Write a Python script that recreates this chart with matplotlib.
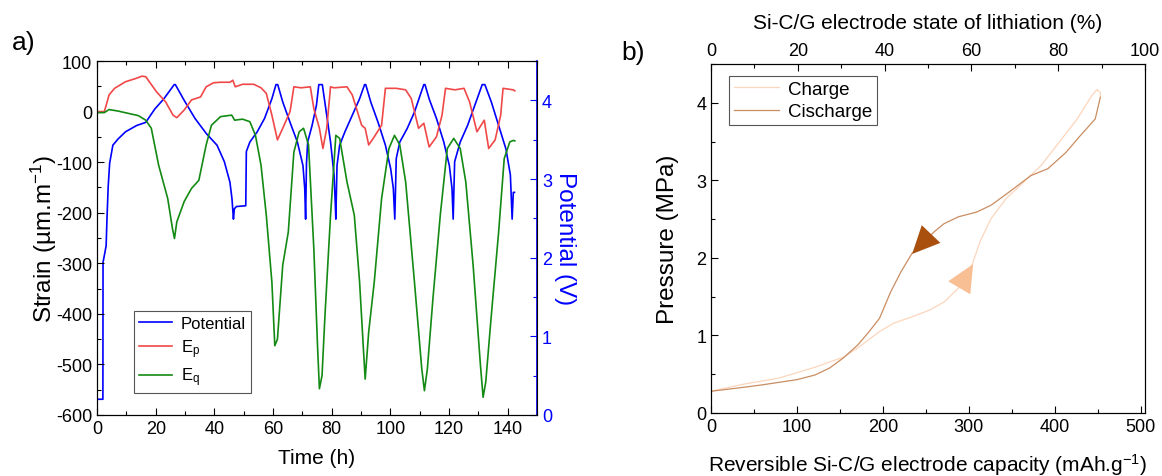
import matplotlib
matplotlib.use("Agg")
import matplotlib.pyplot as plt
from matplotlib.ticker import MultipleLocator

plt.rcParams['font.family'] = ['Liberation Sans', 'DejaVu Sans']
plt.rcParams['mathtext.fontset'] = 'custom'
plt.rcParams['mathtext.rm'] = 'Liberation Sans'
plt.rcParams['mathtext.it'] = 'Liberation Sans:italic'
plt.rcParams['mathtext.default'] = 'regular'

# ---------------- Panel a data ----------------
pot_t = [0, 2.0, 2.05, 3.1, 3.4, 3.8, 4.3, 5.4, 7.2, 9.7, 13.5, 16.6, 19.7, 22.8, 26.3, 26.7,
         29.7, 33.4, 37.2, 40.9, 43.4, 45.3, 46.0, 46.5, 46.8, 47.5, 50.7, 50.9, 52.1, 54.6,
         57.1, 59.6, 61.0, 61.6, 63.3, 65.8, 68.3, 70.2, 70.8, 71.1, 71.4, 71.8, 73.3, 74.8,
         75.6, 76.8, 78.3, 79.6, 80.8, 81.2, 81.4, 81.8, 82.7, 84.5, 87.0, 89.5, 91.2, 91.6,
         93.3, 95.8, 98.3, 100.1, 101.0, 101.5, 102.0, 103.2, 105.7, 108.2, 110.1, 111.4,
         111.8, 113.2, 115.7, 118.2, 120.1, 121.0, 121.4, 121.9, 123.8, 126.3, 128.8, 131.3,
         132.2, 134.4, 136.9, 139.4, 140.9, 141.5, 141.9, 142.3]
pot_v = [0.2, 0.2, 1.94, 2.15, 2.5, 2.9, 3.2, 3.43, 3.51, 3.6, 3.68, 3.72, 3.89, 4.02, 4.2, 4.2,
         4.0, 3.77, 3.58, 3.43, 3.22, 2.96, 2.75, 2.49, 2.62, 2.65, 2.66, 3.35, 3.47, 3.6,
         3.77, 4.02, 4.2, 4.2, 3.98, 3.72, 3.47, 3.17, 2.88, 2.49, 3.2, 3.47, 3.68, 3.94,
         4.2, 4.2, 3.81, 3.47, 3.05, 2.7, 2.49, 3.17, 3.43, 3.6, 3.81, 4.02, 4.2, 4.2,
         3.98, 3.72, 3.43, 3.13, 2.88, 2.49, 3.26, 3.47, 3.64, 3.85, 4.06, 4.2,
         4.2, 4.02, 3.77, 3.47, 3.17, 2.88, 2.49, 3.22, 3.47, 3.68, 3.94, 4.2,
         4.2, 3.98, 3.68, 3.38, 3.05, 2.49, 2.83, 2.83]

ep_t = [0, 2.5, 3.0, 4.1, 6.0, 9.7, 13.5, 15.3, 16.6, 20.3, 23.4, 25.9, 27.2, 29.7, 32.2, 35.3,
        37.2, 39.7, 42.1, 45.3, 46.3, 47.1, 49.6, 53.4, 55.9, 57.7, 59.6, 61.5, 63.3, 65.8,
        67.1, 69.6, 72.7, 73.9, 75.8, 77.0, 78.3, 79.6, 80.8, 85.2, 87.0, 90.2, 91.4, 92.6,
        94.5, 97.0, 98.3, 102.0, 105.2, 107.1, 109.6, 111.4, 113.2, 115.7, 117.6, 118.8,
        122.0, 125.1, 127.0, 129.5, 132.0, 133.5, 135.7, 137.6, 138.4, 141.9, 142.4]
ep_v = [0, 0, 10, 33, 46, 59, 66, 70, 69, 39, 19, -7, -12, 3, 23, 29,
        49, 57, 58, 58, 62, 49, 54, 54, 47, 36, -7, -56, -33, 0,
        49, 47, 49, 6, -33, -73, -33, 49, 47, 49, 33, -27, -33, -66,
        -50, -27, 46, 46, 43, 26, -33, -23, -70, -50, -7, 46,
        43, 46, 19, -40, -17, -73, -56, -7, 46, 43, 41]

eq_t = [0, 2.5, 4.1, 7.2, 11.0, 14.1, 16.6, 18.5, 21.0, 24.1, 25.7, 26.4, 27.2, 29.7, 32.2,
        34.7, 37.2, 39.0, 42.1, 45.9, 46.9, 49.6, 52.1, 54.0, 55.9, 57.7, 59.6, 60.6, 61.5,
        63.3, 65.2, 67.1, 68.9, 70.4, 72.1, 73.9, 75.2, 75.8, 76.7, 77.7, 79.6, 81.4, 82.7,
        85.2, 87.7, 89.5, 90.8, 91.4, 92.6, 94.5, 97.0, 99.5, 101.4, 103.2, 105.2, 108.2,
        110.7, 111.6, 112.6, 114.5, 117.0, 119.4, 121.6, 123.8, 125.7, 128.2, 130.7, 131.6,
        132.5, 134.4, 136.9, 138.8, 140.7, 141.9, 142.4]
eq_v = [-2, -2, 4, 1, -4, -8, -17, -33, -106, -172, -231, -251, -218, -178, -152,
        -136, -66, -27, -10, -7, -17, -15, -20, -47, -106, -205, -337, -463, -450,
        -304, -238, -80, -40, -33, -66, -271, -469, -548, -522, -403, -205, -47, -53,
        -139, -205, -337, -469, -529, -436, -337, -172, -73, -47, -66, -139, -337,
        -509, -552, -509, -370, -205, -73, -53, -73, -139, -304, -502, -565,
        -535, -403, -238, -93, -60, -57, -58]

# ---------------- Panel b data ----------------
chg_cap = [0, 37, 79, 121, 154, 171, 196, 213, 234, 255, 271, 288, 301, 313, 326, 343,
           364, 384, 405, 426, 443, 449, 453, 453]
chg_p = [0.28, 0.37, 0.45, 0.59, 0.72, 0.84, 1.05, 1.16, 1.24, 1.33, 1.43, 1.61, 1.82, 2.21,
         2.51, 2.76, 2.98, 3.19, 3.49, 3.79, 4.09, 4.17, 4.13, 4.07]
dis_cap = [453, 447, 430, 413, 392, 372, 347, 326, 309, 288, 271, 259, 246, 234, 221, 209,
           196, 184, 171, 154, 138, 121, 100, 58, 37, 0]
dis_p = [4.07, 3.79, 3.58, 3.36, 3.15, 3.06, 2.85, 2.68, 2.59, 2.53, 2.44, 2.33, 2.18, 2.06,
         1.82, 1.56, 1.22, 1.05, 0.88, 0.71, 0.58, 0.49, 0.43, 0.36, 0.33, 0.28]

# arrow heads (tip, tail) along curves
dis_arrow_tip = (234, 2.05)
dis_arrow_tail = (258, 2.33)
chg_arrow_tip = (305, 1.92)
chg_arrow_tail = (287, 1.58)

C_POT = '#0000ff'
C_EP = '#f04848'
C_EQ = '#138a13'
C_CHG = '#fbd6bd'
C_DIS = '#c98d62'
C_DIS_ARROW = '#a9500f'
C_CHG_ARROW = '#f8bf95'

fig = plt.figure(figsize=(11.62, 4.77), dpi=100)

TICK_FS = 13
LABEL_FS = 15
YLABEL_FS = 17.5

# ---------------- Panel a ----------------
ax1 = fig.add_axes([0.0835, 0.1279, 0.3787, 0.7421])
ax1b = ax1.twinx()

l_ep, = ax1.plot(ep_t, ep_v, color=C_EP, lw=1.2, label='E$_\\mathrm{p}$')
l_eq, = ax1.plot(eq_t, eq_v, color=C_EQ, lw=1.2, label='E$_\\mathrm{q}$')
l_pot, = ax1b.plot(pot_t, pot_v, color=C_POT, lw=1.2, label='Potential')

ax1.set_xlim(0, 150)
ax1.set_ylim(-600, 100)
ax1b.set_ylim(0, 4.5)
ax1.xaxis.set_major_locator(MultipleLocator(20))
ax1.xaxis.set_minor_locator(MultipleLocator(10))
ax1.yaxis.set_major_locator(MultipleLocator(100))
ax1.yaxis.set_minor_locator(MultipleLocator(50))
ax1b.yaxis.set_major_locator(MultipleLocator(1))
ax1b.yaxis.set_minor_locator(MultipleLocator(0.5))

ax1.tick_params(axis='x', which='both', direction='in', top=True, bottom=True, labelsize=TICK_FS)
ax1.tick_params(axis='y', which='both', direction='in', left=True, right=False, labelsize=TICK_FS)
ax1.tick_params(which='major', length=5, width=0.8)
ax1.tick_params(which='minor', length=3, width=0.8)
ax1b.tick_params(axis='y', which='both', direction='in', colors=C_POT, labelsize=TICK_FS)
ax1b.tick_params(which='major', length=5, width=0.8)
ax1b.tick_params(which='minor', length=3, width=0.8)
ax1b.spines['right'].set_color(C_POT)
ax1b.spines['right'].set_linewidth(1.2)

ax1.set_yticks(ax1.get_yticks())
ax1.set_yticklabels([str(int(v)) for v in ax1.get_yticks()])
ax1.set_ylim(-600, 100)
ax1.set_xlabel('Time (h)', fontsize=LABEL_FS, labelpad=8)
ax1.set_ylabel('Strain (µm.m$^{-1}$)', fontsize=YLABEL_FS, labelpad=-2)
ax1b.set_ylabel('Potential (V)', fontsize=YLABEL_FS, color=C_POT, rotation=270, labelpad=17)

leg1 = ax1.legend([l_pot, l_ep, l_eq], ['Potential', 'E$_\\mathrm{p}$', 'E$_\\mathrm{q}$'],
                  loc='lower left', bbox_to_anchor=(0.084, 0.062), borderaxespad=0,
                  fontsize=12, fancybox=False, framealpha=1, edgecolor='#555555',
                  handlelength=2.0, handletextpad=0.5, labelspacing=0.35, borderpad=0.3)
leg1.get_frame().set_linewidth(0.8)
ax1.set_zorder(ax1b.get_zorder() + 1)
ax1.patch.set_visible(False)

fig.text(0.010, 0.895, 'a)', fontsize=19)

# ---------------- Panel b ----------------
ax2 = fig.add_axes([0.6119, 0.1321, 0.3735, 0.7317])
l_chg, = ax2.plot(chg_cap, chg_p, color=C_CHG, lw=0.9, label='Charge')
l_dis, = ax2.plot(dis_cap, dis_p, color=C_DIS, lw=0.9, label='Cischarge')

ax2.annotate('', xy=dis_arrow_tip, xytext=dis_arrow_tail,
             arrowprops=dict(arrowstyle='-|>,head_length=0.9,head_width=0.42',
                             mutation_scale=22, fc=C_DIS_ARROW, ec=C_DIS_ARROW, lw=0,
                             shrinkA=0, shrinkB=0))
ax2.annotate('', xy=chg_arrow_tip, xytext=chg_arrow_tail,
             arrowprops=dict(arrowstyle='-|>,head_length=0.9,head_width=0.42',
                             mutation_scale=22, fc=C_CHG_ARROW, ec=C_CHG_ARROW, lw=0,
                             shrinkA=0, shrinkB=0))

ax2.set_xlim(0, 505)
ax2.set_ylim(0, 4.5)
ax2.xaxis.set_major_locator(MultipleLocator(100))
ax2.xaxis.set_minor_locator(MultipleLocator(50))
ax2.yaxis.set_major_locator(MultipleLocator(1))
ax2.yaxis.set_minor_locator(MultipleLocator(0.5))
ax2.tick_params(which='both', direction='in', top=False, right=False, labelsize=TICK_FS)
ax2.tick_params(which='major', length=5, width=0.8)
ax2.tick_params(which='minor', length=3, width=0.8)
ax2.set_xlabel('Reversible Si-C/G electrode capacity (mAh.g$^{-1}$)', fontsize=LABEL_FS, labelpad=12)
ax2.set_ylabel('Pressure (MPa)', fontsize=YLABEL_FS, labelpad=12)

ax2t = ax2.twiny()
ax2t.set_xlim(0, 100)
ax2t.xaxis.set_major_locator(MultipleLocator(20))
ax2t.xaxis.set_minor_locator(MultipleLocator(10))
ax2t.tick_params(which='both', direction='in', labelsize=TICK_FS)
ax2t.tick_params(which='major', length=5, width=0.8)
ax2t.tick_params(which='minor', length=3, width=0.8)
ax2t.set_xlabel('Si-C/G electrode state of lithiation (%)', fontsize=LABEL_FS, labelpad=10)

leg2 = ax2.legend([l_chg, l_dis], ['Charge', 'Cischarge'], loc='upper left',
                  bbox_to_anchor=(0.041, 0.966), borderaxespad=0, fontsize=13.5,
                  fancybox=False, framealpha=1, edgecolor='#555555',
                  handlelength=2.4, handletextpad=0.5, labelspacing=0.3, borderpad=0.25)
leg2.get_frame().set_linewidth(0.8)

fig.text(0.535, 0.875, 'b)', fontsize=19)

fig.savefig('out.png', dpi=100)
